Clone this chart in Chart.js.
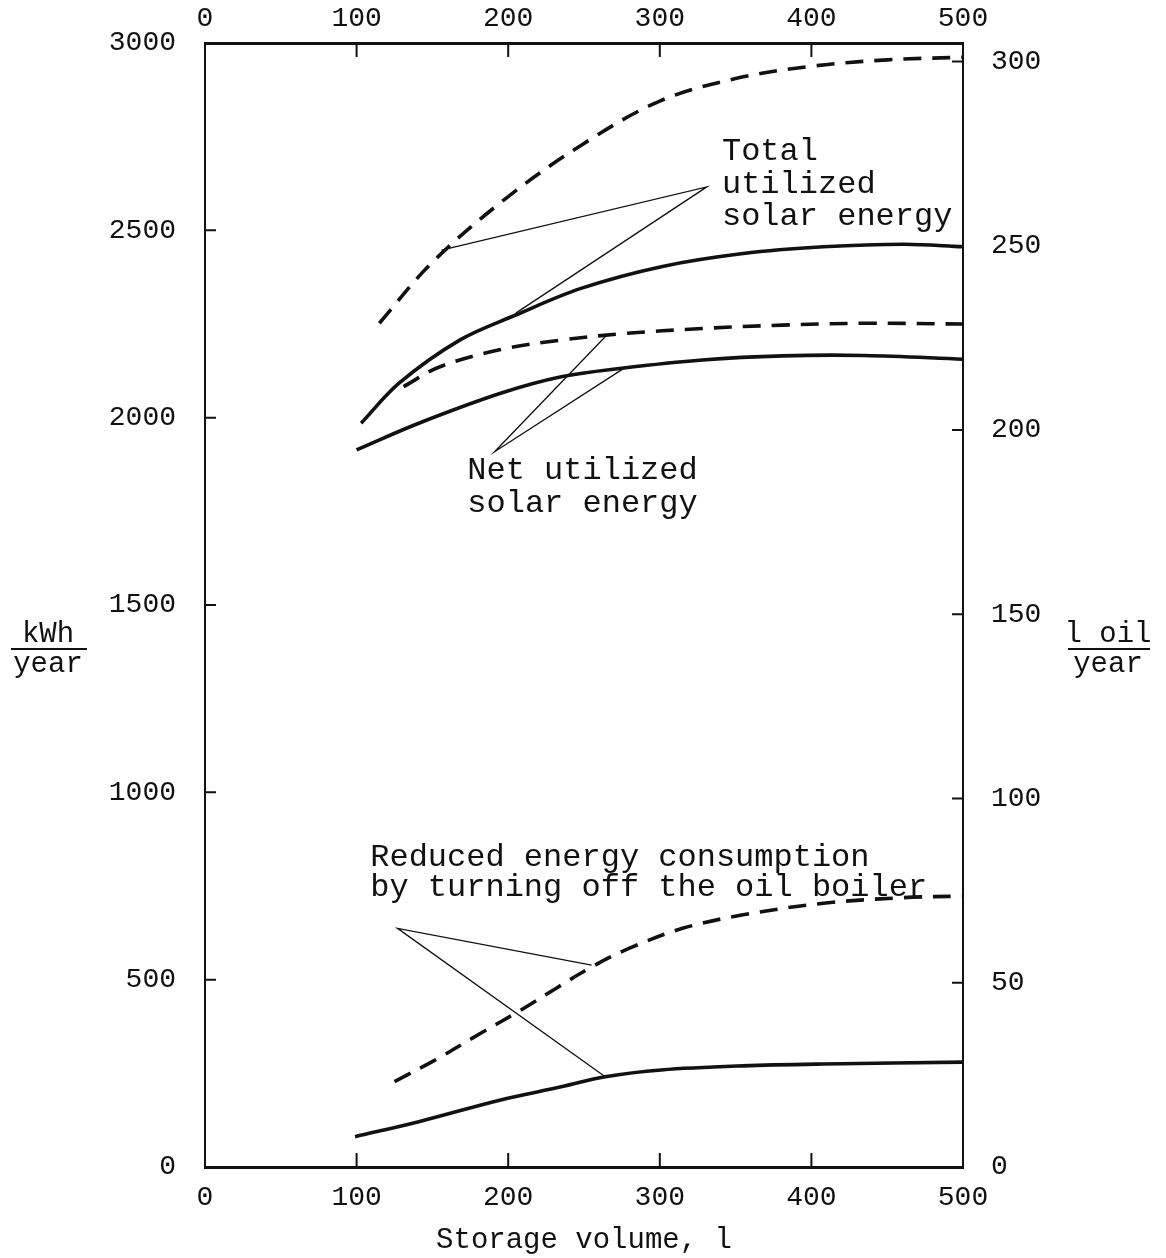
<!DOCTYPE html>
<html>
<head>
<meta charset="utf-8">
<style>
  html, body { margin: 0; padding: 0; background: #fff; }
  #wrap { width: 1166px; height: 1258px; }
</style>
<script src="https://cdn.jsdelivr.net/npm/chart.js@4.4.1/dist/chart.umd.min.js"></script>
</head>
<body>
<div id="wrap"><canvas id="chart"></canvas></div>
<script>
// axis ranges / ticks
const volumeTicks = [0, 100, 200, 300, 400, 500];
const kwhTicks = [0, 500, 1000, 1500, 2000, 2500, 3000];
const oilTicks = [0, 50, 100, 150, 200, 250, 300];

// Total utilized solar energy
const totalDashedVol = [115, 150, 200, 250, 300, 350, 400, 450, 500];
const totalDashedKwh = [2252, 2415, 2590, 2732, 2845, 2905, 2938, 2955, 2962];
const totalSolidVol = [103, 128, 168, 205, 248, 301, 355, 408, 461, 500];
const totalSolidKwh = [1985, 2092, 2207, 2274, 2345, 2403, 2438, 2456, 2463, 2456];

// Net utilized solar energy
const netDashedVol = [131, 155, 195, 235, 275, 328, 381, 435, 500];
const netDashedKwh = [2083, 2136, 2182, 2207, 2224, 2238, 2247, 2252, 2250];
const netSolidVol = [100, 141, 195, 235, 275, 328, 381, 435, 500];
const netSolidKwh = [1914, 1985, 2065, 2109, 2132, 2154, 2165, 2166, 2156];

// Reduced energy consumption by turning off the oil boiler
const reducedDashedVol = [125, 152, 181, 208, 232, 256, 280, 315, 355, 408, 461, 500];
const reducedDashedKwh = [228, 286, 355, 418, 478, 536, 584, 637, 673, 704, 719, 723];
const reducedSolidVol = [99, 141, 195, 235, 264, 301, 355, 408, 500];
const reducedSolidKwh = [81, 121, 179, 214, 241, 259, 270, 275, 280];

// leader lines: curve point, label vertex, curve point
const totalLeaderVol = [156, 331, 205];
const totalLeaderKwh = [2447, 2616, 2279];
const netLeaderVol = [264, 191, 276];
const netLeaderKwh = [2216, 1909, 2131];
const reducedLeaderVol = [255, 127, 264];
const reducedLeaderKwh = [539, 637, 241];

// curve labels (left edge volume, line centre kWh)
const curveLabels = [
  { text: 'Total', vol: 341, kwh: 2709 },
  { text: 'utilized', vol: 341, kwh: 2623 },
  { text: 'solar energy', vol: 341, kwh: 2538 },
  { text: 'Net utilized', vol: 173, kwh: 1860 },
  { text: 'solar energy', vol: 173, kwh: 1772 },
  { text: 'Reduced energy consumption', vol: 109, kwh: 825 },
  { text: 'by turning off the oil boiler', vol: 109, kwh: 745 }
];

const INK = '#111';
const FONT = 'Liberation Mono, DejaVu Sans Mono, monospace';

function pts(xs, ys) {
  return xs.map((x, i) => ({ x: x, y: ys[i] }));
}

function curve(label, xs, ys, dashed) {
  return {
    label: label,
    data: pts(xs, ys),
    borderColor: INK,
    borderWidth: 3.6,
    borderDash: dashed ? [18, 11] : [],
    pointRadius: 0,
    tension: 0.35,
    fill: false
  };
}

function leader(label, xs, ys) {
  return {
    label: label,
    data: pts(xs, ys),
    borderColor: INK,
    borderWidth: 1.3,
    pointRadius: 0,
    tension: 0,
    fill: false
  };
}

// ticks pointing into the plot, plus text annotations
const decorations = {
  id: 'decorations',
  afterDraw(chart) {
    const ctx = chart.ctx;
    const a = chart.chartArea;
    const s = chart.scales;
    ctx.save();
    ctx.strokeStyle = INK;
    ctx.lineWidth = 2;
    ctx.beginPath();
    volumeTicks.slice(1, -1).forEach(v => {
      const px = s.x.getPixelForValue(v);
      ctx.moveTo(px, a.bottom); ctx.lineTo(px, a.bottom - 14);
      ctx.moveTo(px, a.top); ctx.lineTo(px, a.top + 14);
    });
    kwhTicks.slice(1, -1).forEach(v => {
      const py = s.y.getPixelForValue(v);
      ctx.moveTo(a.left, py); ctx.lineTo(a.left + 11, py);
    });
    oilTicks.slice(1).forEach(v => {
      const py = s.y2.getPixelForValue(v);
      ctx.moveTo(a.right, py); ctx.lineTo(a.right - 11, py);
    });
    ctx.stroke();

    ctx.fillStyle = INK;
    ctx.font = '32px ' + FONT;
    ctx.textAlign = 'left';
    ctx.textBaseline = 'middle';
    curveLabels.forEach(l => {
      ctx.fillText(l.text, s.x.getPixelForValue(l.vol), s.y.getPixelForValue(l.kwh));
    });

    // unit fractions beside the vertical axes
    ctx.font = '29px ' + FONT;
    ctx.textAlign = 'center';
    ctx.fillText('kWh', 48, 634);
    ctx.fillText('year', 48, 664);
    ctx.fillText('l oil', 1108, 634);
    ctx.fillText('year', 1108, 664);
    ctx.lineWidth = 2;
    ctx.beginPath();
    ctx.moveTo(11, 649); ctx.lineTo(87, 649);
    ctx.moveTo(1068, 649); ctx.lineTo(1150, 649);
    ctx.stroke();
    ctx.restore();
  }
};

const tickFont = { family: FONT, size: 28 };
const plain = v => String(v);

new Chart(document.getElementById('chart'), {
  type: 'line',
  data: {
    datasets: [
      curve('Total utilized solar energy (dashed)', totalDashedVol, totalDashedKwh, true),
      curve('Total utilized solar energy', totalSolidVol, totalSolidKwh, false),
      curve('Net utilized solar energy (dashed)', netDashedVol, netDashedKwh, true),
      curve('Net utilized solar energy', netSolidVol, netSolidKwh, false),
      curve('Reduced energy consumption (dashed)', reducedDashedVol, reducedDashedKwh, true),
      curve('Reduced energy consumption', reducedSolidVol, reducedSolidKwh, false),
      leader('leader total', totalLeaderVol, totalLeaderKwh),
      leader('leader net', netLeaderVol, netLeaderKwh),
      leader('leader reduced', reducedLeaderVol, reducedLeaderKwh)
    ]
  },
  options: {
    responsive: true,
    maintainAspectRatio: false,
    animation: false,
    layout: { padding: 0 },
    plugins: {
      legend: { display: false },
      tooltip: { enabled: false }
    },
    scales: {
      x: {
        type: 'linear',
        position: 'bottom',
        min: 0, max: 500,
        afterBuildTicks: scale => { scale.ticks = volumeTicks.map(v => ({ value: v })); },
        afterFit: scale => { scale.height = 91; },
        ticks: { font: tickFont, color: INK, padding: 6, maxRotation: 0, callback: plain },
        grid: { display: false },
        border: { color: INK, width: 3 },
        title: {
          display: true,
          text: 'Storage volume, l',
          font: { family: FONT, size: 29 },
          color: INK,
          padding: { top: 0, bottom: 0 }
        }
      },
      x2: {
        type: 'linear',
        position: 'top',
        min: 0, max: 500,
        afterBuildTicks: scale => { scale.ticks = volumeTicks.map(v => ({ value: v })); },
        afterFit: scale => { scale.height = 43; },
        ticks: { font: tickFont, color: INK, padding: 0, maxRotation: 0, callback: plain },
        grid: { display: false },
        border: { color: INK, width: 3 }
      },
      y: {
        type: 'linear',
        position: 'left',
        min: 0, max: 3000,
        afterBuildTicks: scale => { scale.ticks = kwhTicks.map(v => ({ value: v })); },
        afterFit: scale => { scale.width = 205; },
        ticks: { font: tickFont, color: INK, padding: 21, callback: plain },
        grid: { display: false },
        border: { color: INK, width: 2 }
      },
      y2: {
        type: 'linear',
        position: 'right',
        min: 0, max: 305,
        afterBuildTicks: scale => { scale.ticks = oilTicks.map(v => ({ value: v })); },
        afterFit: scale => { scale.width = 203; },
        ticks: { font: tickFont, color: INK, padding: 20, callback: plain },
        grid: { display: false },
        border: { color: INK, width: 2 }
      }
    }
  },
  plugins: [decorations]
});
</script>
</body>
</html>
